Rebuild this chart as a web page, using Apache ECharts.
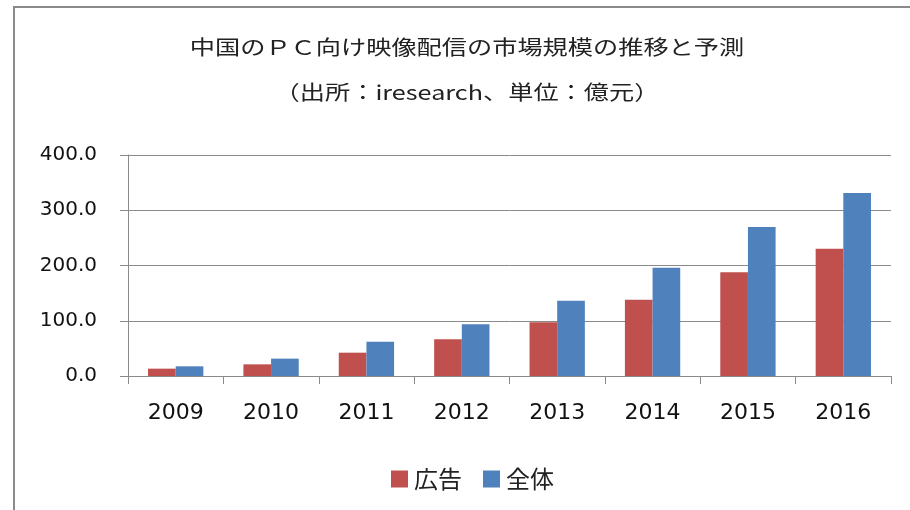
<!DOCTYPE html>
<html>
<head>
<meta charset="utf-8">
<script src="https://cdn.jsdelivr.net/npm/echarts@6/dist/echarts.min.js"></script>
<style>
  html, body { margin: 0; padding: 0; background: #fff; }
  #frame { position: absolute; left: 13px; top: 6px; width: 910px; height: 520px;
           border-left: 2px solid #8a8a8a; border-top: 2px solid #8a8a8a; }
  #chart { position: absolute; left: 0; top: 0; width: 910px; height: 510px; }
</style>
</head>
<body>
<div id="frame"></div>
<div id="chart"></div>
<script>
// data (unit: 億元)
const years = ['2009', '2010', '2011', '2012', '2013', '2014', '2015', '2016'];
const adValues = [13.3, 21.1, 42.2, 66.4, 97.1, 138.2, 187.6, 230.5];
const totalValues = [17.5, 31.4, 62.1, 93.5, 136.3, 196.1, 269.7, 331.2];
const seriesNames = ['広告', '全体'];
const titleText = '中国のＰＣ向け映像配信の市場規模の推移と予測';
const subtitleText = '（出所：iresearch、単位：億元）';

const cjk = '"Noto Sans CJK JP", "Noto Sans", sans-serif';
const latin = '"DejaVu Sans", Verdana, sans-serif';

const chart = echarts.init(document.getElementById('chart'), null, { renderer: 'canvas' });

// the reference title font is wide-set, so the text is stretched a little
function titleLine(text, y) {
  return {
    type: 'text', x: 467, y: y, scaleX: 1.26,
    style: {
      text: text, fill: '#222', align: 'center', verticalAlign: 'middle',
      font: '20px ' + cjk
    }
  };
}

chart.setOption({
  animation: false,
  backgroundColor: 'transparent',
  graphic: [titleLine(titleText, 47), titleLine(subtitleText, 92)],
  legend: {
    data: seriesNames,
    left: 386, top: 462,
    icon: 'rect', itemWidth: 17, itemHeight: 17, itemGap: 21,
    textStyle: { fontFamily: cjk, fontSize: 24, color: '#222', padding: [0, 0, 0, 1] }
  },
  grid: { left: 128, right: 19, top: 155, bottom: 134 },
  xAxis: {
    type: 'category',
    data: years,
    axisLine: { lineStyle: { color: '#8a8a8a', width: 1 } },
    axisTick: { show: true, length: 8, lineStyle: { color: '#8a8a8a' } },
    axisLabel: { fontFamily: latin, fontSize: 22, color: '#111', margin: 26 }
  },
  yAxis: {
    type: 'value',
    min: 0, max: 400, interval: 100,
    axisLine: { show: true, lineStyle: { color: '#8a8a8a' } },
    axisTick: { show: true, length: 8, lineStyle: { color: '#8a8a8a' } },
    splitLine: { lineStyle: { color: '#8a8a8a', width: 1 } },
    axisLabel: {
      fontFamily: latin, fontSize: 20, color: '#111', margin: 31,
      formatter: v => v.toFixed(1)
    }
  },
  series: [
    {
      name: seriesNames[0], type: 'bar', data: adValues,
      barGap: '0%', barCategoryGap: '42%',
      itemStyle: { color: '#c0504d' }
    },
    {
      name: seriesNames[1], type: 'bar', data: totalValues,
      itemStyle: { color: '#4f81bd' }
    }
  ]
});
</script>
</body>
</html>
